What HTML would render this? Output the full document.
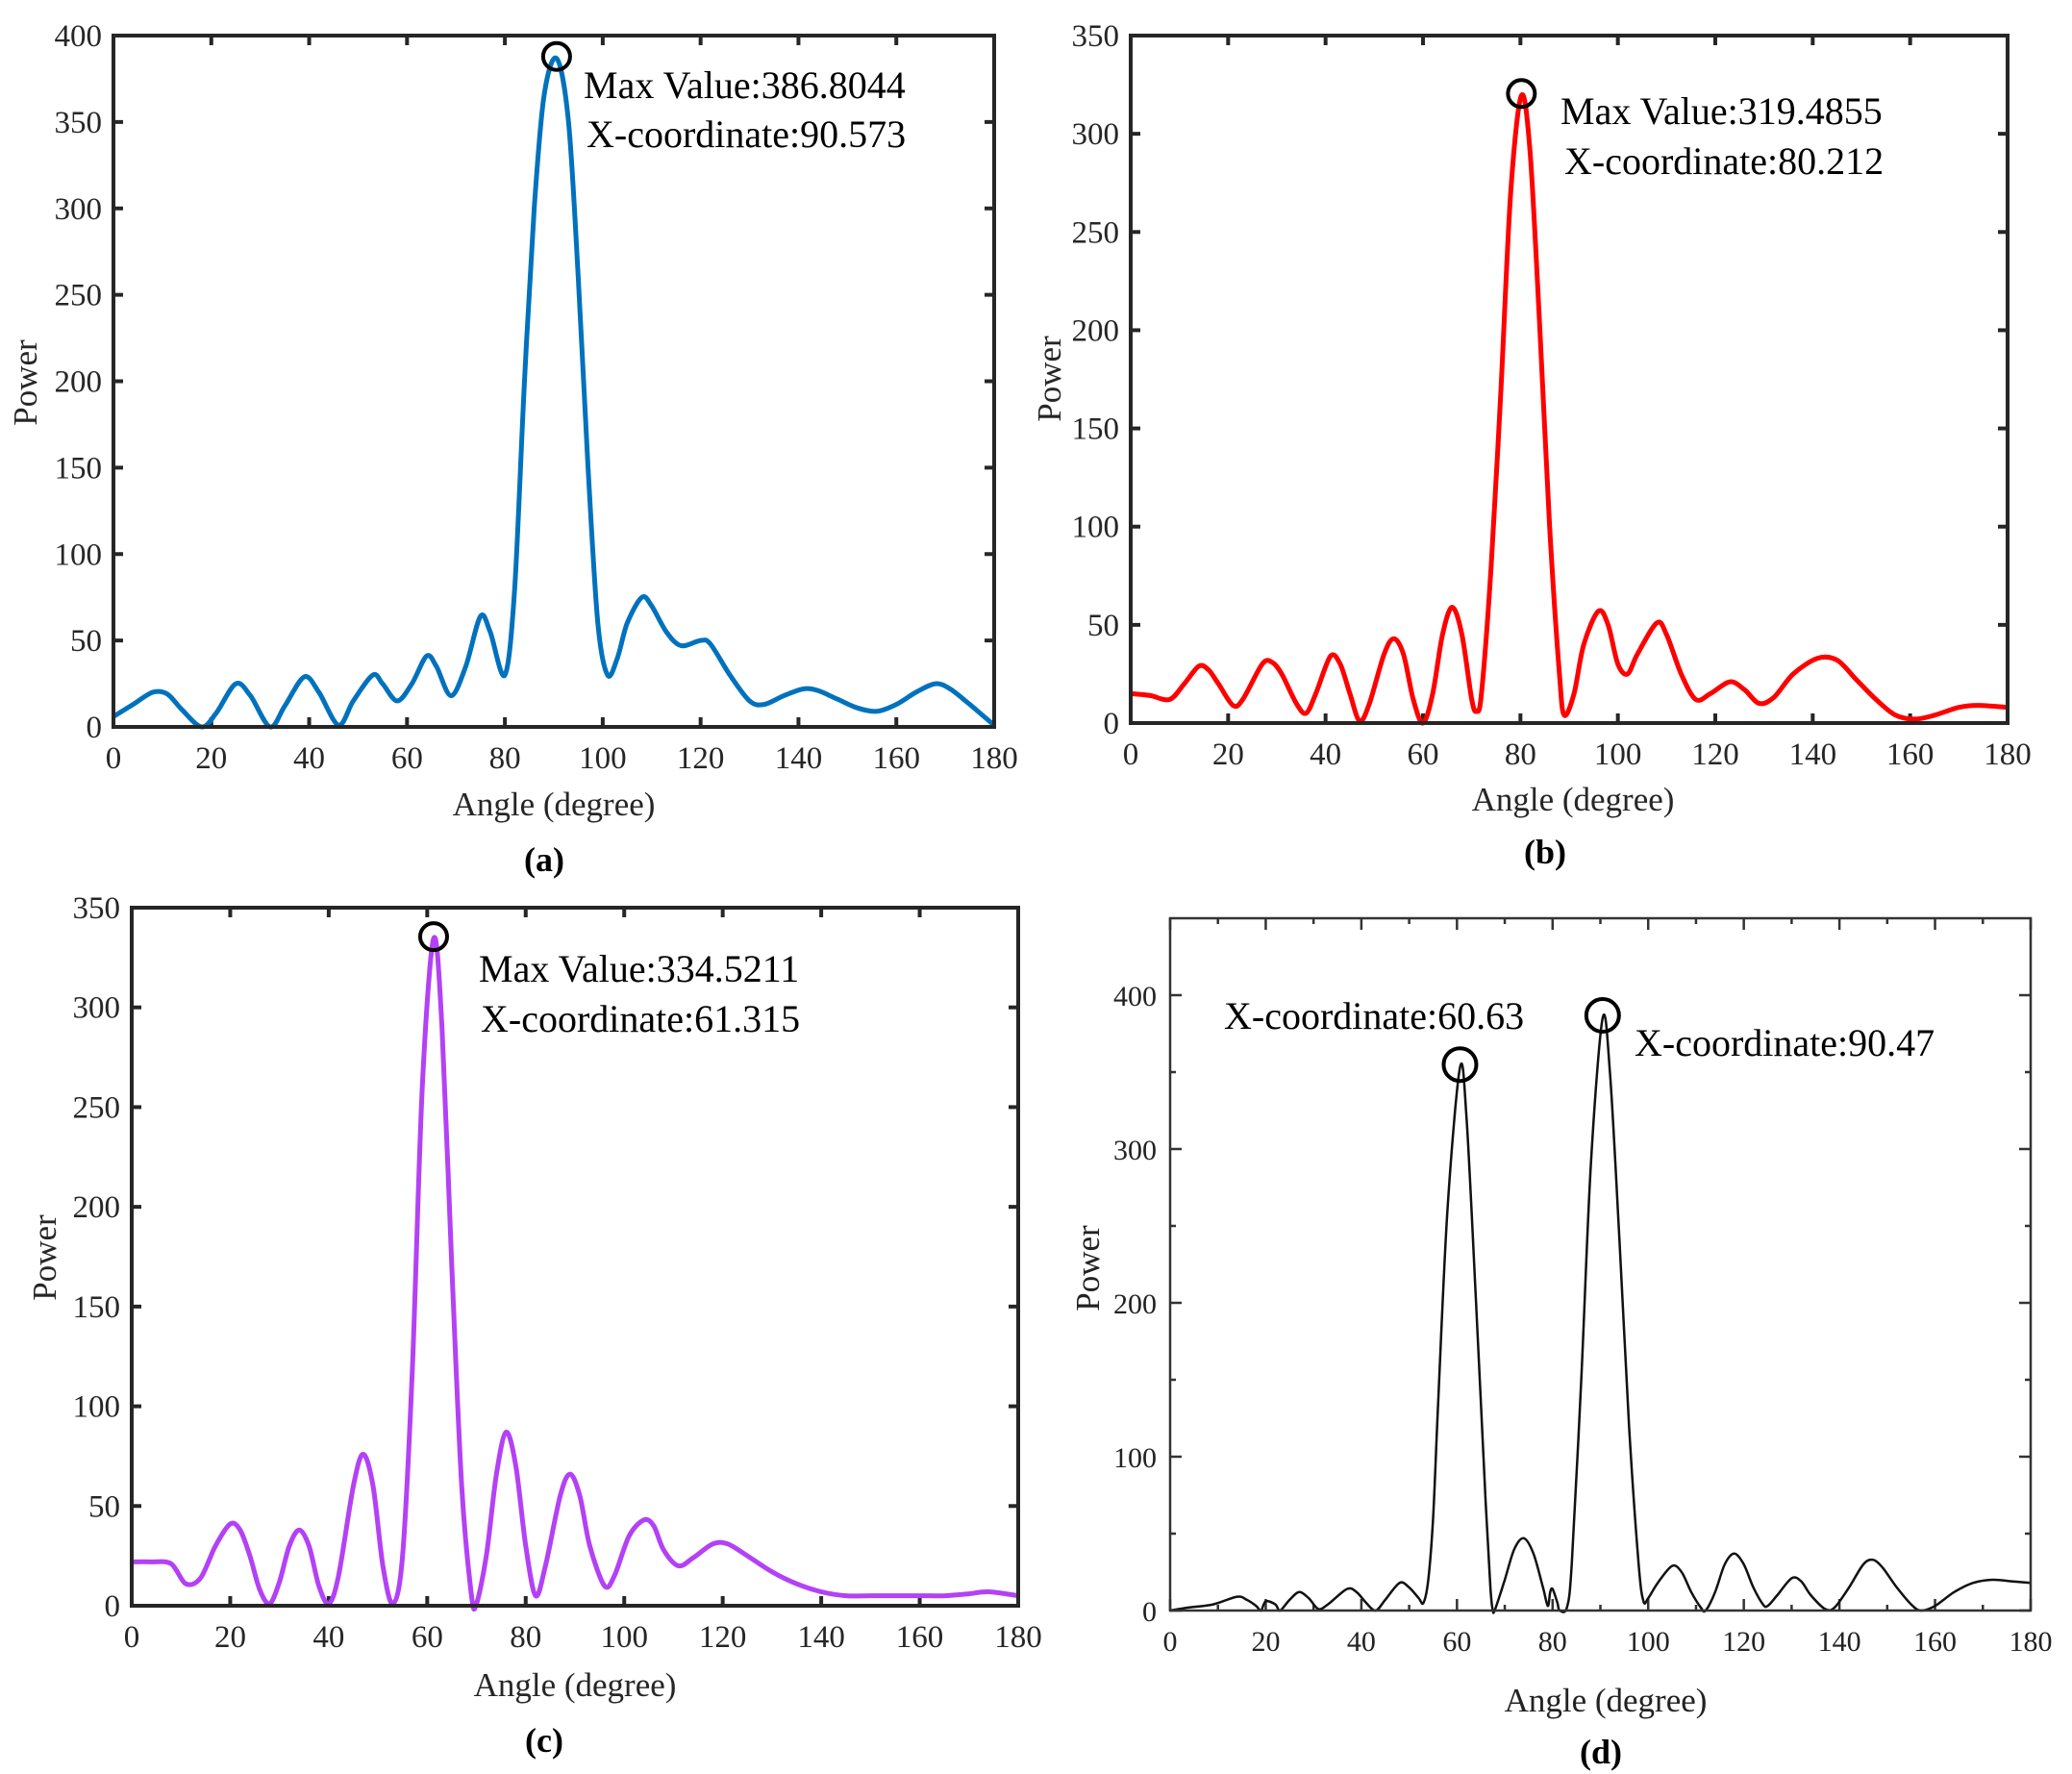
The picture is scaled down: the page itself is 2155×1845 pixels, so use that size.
<!DOCTYPE html>
<html><head><meta charset="utf-8"><style>
html,body{margin:0;padding:0;background:#fff;}
svg{display:block;font-family:"Liberation Serif",serif;}
</style></head><body>
<svg id="fig" width="2155" height="1845" viewBox="0 0 2155 1845" xmlns="http://www.w3.org/2000/svg"></svg>
<script>
// ---- Panel data (angle in degrees, power) ----
const xTicks = [0,20,40,60,80,100,120,140,160,180];
const yTicksA = [0,50,100,150,200,250,300,350,400];
const yTicksB = [0,50,100,150,200,250,300,350];
const yTicksD = [0,100,200,300,400];

const anglesA = [0,4,8,11,14,18,21,25,28,32,35,39,42,46,49,53,55,58,61,64,66,69,72,75,77,80,82,84,86,88,90.57,93,95,97,99,101,103,105,108,110,113,116,120,122,126,130,133,137,141,144,148,152,156,160,164,168,171,175,180];
const powerA  = [6,13,20,19,10,0,8,25,18,0,12,29,20,1,15,30,25,15,25,41,35,18,35,64,55,30,80,200,300,365,386.8,350,260,150,60,30,40,60,75,70,55,47,50,48,30,15,13,18,22,21,16,11,9,13,20,25,22,13,1];

const anglesB = [0,4,8,11,14,16,18,21,23,27,29,31,34,36,38,41,43,45,47,49,52,54,56,58,60,62,64,66,68,70,71,72,74,76,78,80.2,82,84,86,88,89,91,93,96,98,100,102,104,108,110,113,116,119,123,126,129,132,136,141,145,149,153,157,161,165,170,174,180];
const powerB  = [15,14,12,20,29,27,20,9,12,30,31,25,10,5,15,34,30,15,1,10,35,43,35,12,0,15,45,59,45,12,6,15,80,170,270,319.5,290,200,100,25,4,15,40,57,50,30,25,35,51,45,25,12,15,21,17,10,13,25,33,32,22,12,4,2,4,8,9,8];

const anglesC = [0,4,8,11,14,17,20,22,24,26,28,30,32,34,36,38,40,42,45,47,49,51,53,55,57,59,61.3,63,65,67,69,70,72,74,76,78,80,82,84,87,89,91,93,96,98,101,104,106,108,111,114,118,121,125,130,135,140,145,150,155,160,165,170,174,180];
const powerC  = [22,22,21,11,14,30,41,38,25,8,1,12,30,38,30,10,1,15,60,76,60,20,1,25,120,260,334.5,290,170,60,5,1,25,65,87,70,30,5,20,55,66,55,30,10,15,35,43,40,28,20,24,31,31,25,17,11,7,5,5,5,5,5,6,7,5];

const anglesD = [0,4,9,14,16,18,19,20,22,23,25,27,29,31,33,37,39,41,43,45,48,50,52,53,54,55,56,58,60.63,62,64,66,67,67.5,68,70,72,74,76,78,79,79.5,80,81,81.5,83,84,86,88,90.47,92,94,96,98,99,100,102,105,107,109,111,112,114,116,118,120,122,124,125,127,130,132,134,137,139,142,145,147,149,152,155,157,160,164,168,172,176,180];
const powerD  = [0,2,4,9,7,3,0,6,4,0,7,12,8,1,4,14,12,5,0,7,18,15,8,5,20,60,130,260,353,320,200,70,15,0,1,20,40,47,37,15,3,12,14,5,0,2,30,150,290,385,350,240,120,30,6,8,18,29,25,12,2,0,12,30,37,30,15,4,3,10,21,19,10,1,2,15,30,33,28,15,4,0,3,12,18,20,19,18];

const NS='http://www.w3.org/2000/svg';
const svg=document.getElementById('fig');
function mk(tag,attrs,parent){const e=document.createElementNS(NS,tag);for(const k in attrs)e.setAttribute(k,attrs[k]);(parent||svg).appendChild(e);return e;}
function txt(s,attrs,parent){const e=mk('text',attrs,parent);e.textContent=s;return e;}

function smoothPath(pts){
  let d='M'+pts[0][0].toFixed(1)+','+pts[0][1].toFixed(1);
  for(let i=0;i<pts.length-1;i++){
    const p0=pts[Math.max(0,i-1)],p1=pts[i],p2=pts[i+1],p3=pts[Math.min(pts.length-1,i+2)];
    const t=0.16;
    const c1=[p1[0]+(p2[0]-p0[0])*t,p1[1]+(p2[1]-p0[1])*t];
    const c2=[p2[0]-(p3[0]-p1[0])*t,p2[1]-(p3[1]-p1[1])*t];
    d+='C'+c1[0].toFixed(1)+','+c1[1].toFixed(1)+' '+c2[0].toFixed(1)+','+c2[1].toFixed(1)+' '+p2[0].toFixed(1)+','+p2[1].toFixed(1);
  }
  return d;
}

function panel(cfg){
  const g=mk('g',{});
  
  
  const X=v=>cfg.x0+(v-0)/180*(cfg.x1-cfg.x0);
  const Y=v=>cfg.y0-(v/cfg.ymax)*(cfg.y0-cfg.ytop);
  const fc=cfg.frameColor, fw=cfg.frameW;
  xTicks.forEach(v=>{
    const x=X(v);
    const t1=mk('line',{x1:x,y1:cfg.y0,x2:x,y2:cfg.y0-cfg.tick,stroke:fc,'stroke-width':fw},g);
    
    
    const t2=mk('line',{x1:x,y1:cfg.ytop,x2:x,y2:cfg.ytop+cfg.tick,stroke:fc,'stroke-width':fw},g);
    
    
    const l=txt(String(v),{x:x,y:cfg.y0+cfg.xlabOff,'text-anchor':'middle','font-size':cfg.fs,fill:cfg.labColor},g);
    
    
  });
  if(cfg.minor){
    for(let v=10;v<180;v+=20){
      const x=X(v);
      const m=mk('line',{x1:x,y1:cfg.y0,x2:x,y2:cfg.y0-cfg.tick/2,stroke:fc,'stroke-width':fw},g);
      
      
      const m2=mk('line',{x1:x,y1:cfg.ytop,x2:x,y2:cfg.ytop+cfg.tick/2,stroke:fc,'stroke-width':fw},g);
      
      
    }
    for(let v=50;v<cfg.ymax;v+=100){
      const y=Y(v);
      const m=mk('line',{x1:cfg.x0,y1:y,x2:cfg.x0+cfg.tick/2,y2:y,stroke:fc,'stroke-width':fw},g);
      
      
      const m2=mk('line',{x1:cfg.x1,y1:y,x2:cfg.x1-cfg.tick/2,y2:y,stroke:fc,'stroke-width':fw},g);
      
      
    }
  }
  cfg.yTicks.forEach(v=>{
    const y=Y(v);
    const t1=mk('line',{x1:cfg.x0,y1:y,x2:cfg.x0+cfg.tick,y2:y,stroke:fc,'stroke-width':fw},g);
    
    
    const t2=mk('line',{x1:cfg.x1,y1:y,x2:cfg.x1-cfg.tick,y2:y,stroke:fc,'stroke-width':fw},g);
    
    
    const l=txt(String(v),{x:cfg.x0-cfg.ylabOff,y:y+11,'text-anchor':'end','font-size':cfg.fs,fill:cfg.labColor},g);
    
    
  });
  const pts=cfg.xs.map((a,i)=>[X(a),Y(cfg.ys[i])]);
  const p=mk('path',{d:smoothPath(pts),fill:'none',stroke:cfg.color,'stroke-width':cfg.lw,'stroke-linejoin':'round'},g);
  
  
  const f=mk('rect',{x:cfg.x0,y:cfg.ytop,width:cfg.x1-cfg.x0,height:cfg.y0-cfg.ytop,fill:'none',stroke:fc,'stroke-width':fw},g);
  
  
  cfg.peaks.forEach(pk=>{
    const c=mk('circle',{cx:X(pk[0]),cy:Y(pk[1])-cfg.circOff,r:cfg.r,fill:'none',stroke:'#000','stroke-width':4},g);
    
    
  });
  cfg.notes.forEach(n=>{
    const t=txt(n[0],{x:n[1],y:n[2],'font-size':cfg.nfs,fill:'#000'},g);
    
    
  });
  const xt=txt('Angle (degree)',{x:cfg.xtitle[0],y:cfg.xtitle[1],'text-anchor':'middle','font-size':cfg.tfs,fill:cfg.labColor},g);
  
  
  const yt=txt('Power',{x:0,y:0,'text-anchor':'middle','font-size':cfg.tfs,fill:cfg.labColor,transform:`translate(${cfg.ytitle[0]},${cfg.ytitle[1]}) rotate(-90)`},g);
  
  
  const pl=txt(cfg.label,{x:cfg.plabel[0],y:cfg.plabel[1],'text-anchor':'middle','font-size':36,'font-weight':'bold',fill:'#000'},g);
  
  
}

panel({name:'panel-a',x0:118,x1:1034,y0:756,ytop:37,ymax:400,yTicks:yTicksA,xs:anglesA,ys:powerA,color:'#0072BD',lw:5,
  frameColor:'#262626',frameW:4,tick:10,fs:33,nfs:40,tfs:35,labColor:'#262626',xlabOff:43,ylabOff:12,
  peaks:[[90.57,386.8]],r:14,circOff:2,notes:[['Max Value:386.8044',607,102],['X-coordinate:90.573',610,153]],
  xtitle:[576,848],ytitle:[38,398],label:'(a)',plabel:[566,906]});
panel({name:'panel-b',x0:1176,x1:2088,y0:752,ytop:37,ymax:350,yTicks:yTicksB,xs:anglesB,ys:powerB,color:'#FF0000',lw:5,
  frameColor:'#262626',frameW:4,tick:10,fs:33,nfs:40,tfs:35,labColor:'#262626',xlabOff:43,ylabOff:12,
  peaks:[[80.2,319.5]],r:14,circOff:2,notes:[['Max Value:319.4855',1623,129],['X-coordinate:80.212',1627,181]],
  xtitle:[1636,843],ytitle:[1103,394],label:'(b)',plabel:[1607,898]});
panel({name:'panel-c',x0:137,x1:1059,y0:1670,ytop:944,ymax:350,yTicks:yTicksB,xs:anglesC,ys:powerC,color:'#B341F5',lw:5,
  frameColor:'#262626',frameW:4,tick:10,fs:33,nfs:40,tfs:35,labColor:'#262626',xlabOff:43,ylabOff:12,
  peaks:[[61.3,334.5]],r:14,circOff:2,notes:[['Max Value:334.5211',498,1021],['X-coordinate:61.315',500,1073]],
  xtitle:[598,1764],ytitle:[58,1308],label:'(c)',plabel:[566,1822]});
panel({name:'panel-d',x0:1217,x1:2112,y0:1675,ytop:955,ymax:450,yTicks:yTicksD,xs:anglesD,ys:powerD,color:'#111',lw:2.5,
  frameColor:'#333',frameW:2.5,tick:12,fs:30,nfs:40,tfs:35,labColor:'#222',xlabOff:42,ylabOff:14,minor:true,
  peaks:[[60.63,353],[90.47,385]],r:17,circOff:3,notes:[['X-coordinate:60.63',1273,1070],['X-coordinate:90.47',1700,1098]],
  xtitle:[1670,1780],ytitle:[1143,1319],label:'(d)',plabel:[1665,1834]});
</script>
</body></html>
